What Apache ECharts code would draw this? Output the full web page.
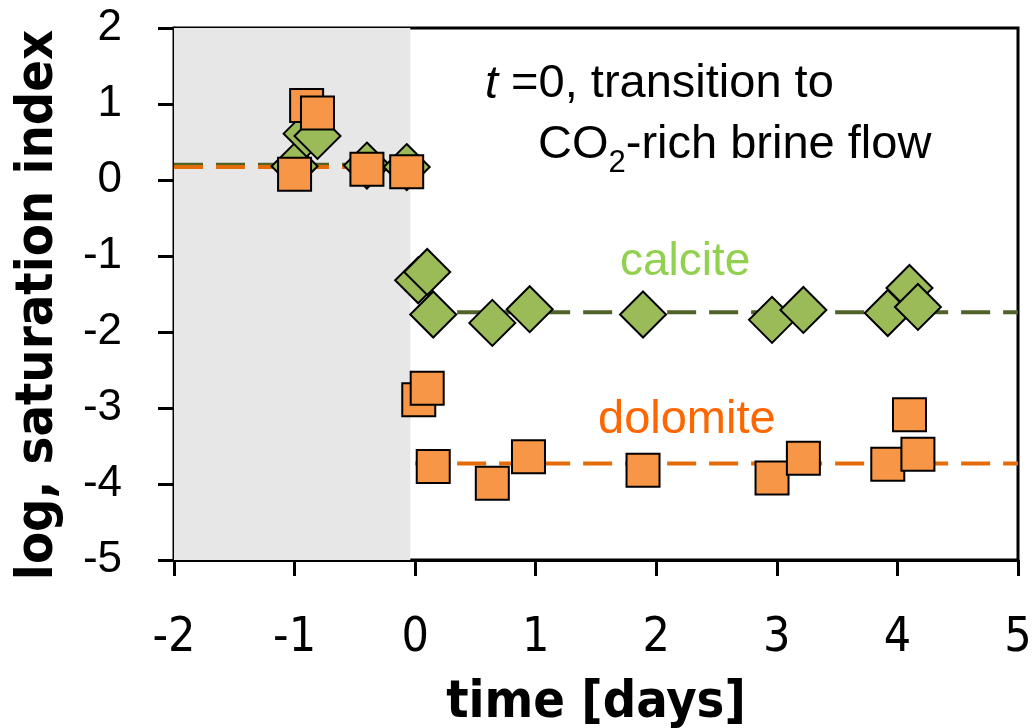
<!DOCTYPE html>
<html>
<head>
<meta charset="utf-8">
<script src="https://cdn.jsdelivr.net/npm/echarts@6/dist/echarts.min.js"></script>
<style>
html,body{margin:0;padding:0;background:#fff;}
#chart{width:1034px;height:728px;}
</style>
</head>
<body>
<div id="chart"></div>
<script>
// ---- data ----
const xRange = [-2, 5];
const yRange = [-5, 2];
const shadeRange = [-2, -0.04];

const calciteT  = [-1.00, -0.90, -0.81, -0.40, -0.07, 0.025, 0.10, 0.15, 0.64, 0.95, 1.89, 2.96, 3.22, 4.10, 3.92, 4.17];
const calciteSI = [0.18, 0.61, 0.58, 0.19, 0.17, -1.32, -1.21, -1.77, -1.88, -1.70, -1.77, -1.84, -1.71, -1.42, -1.75, -1.67];

const dolomiteT  = [-0.90, -0.81, -1.00, -0.40, -0.07, 0.03, 0.10, 0.15, 0.64, 0.94, 1.89, 2.96, 3.22, 4.10, 3.92, 4.17];
const dolomiteSI = [0.98, 0.88, 0.075, 0.14, 0.11, -2.89, -2.74, -3.77, -3.99, -3.64, -3.82, -3.92, -3.66, -3.09, -3.74, -3.61];

// mean levels (dashed lines): before and after t = 0
const fitBreaks   = [-2, 0, 5];
const calciteFit  = [0.20, -1.74];
const dolomiteFit = [0.17, -3.73];

const labelCalcite = 'calcite';
const labelDolomite = 'dolomite';
const xTitle = 'time [days]';
const yTitle = 'log, saturation index';

// ---- build ----
const pairs = (xs, ys) => xs.map((x, i) => [x, ys[i]]);
const fitSeg = (levels, k) => [[fitBreaks[k], levels[k]], [fitBreaks[k + 1], levels[k]]];

const condensed = '"DejaVu Sans Condensed", "Liberation Sans Narrow", sans-serif';
const arial = '"Liberation Sans", Arial, sans-serif';
const dashStyle = (c) => ({ color: c, width: 4, type: [29, 13] });

const chart = echarts.init(document.getElementById('chart'), null, { renderer: 'canvas' });

const option = {
  animation: false,
  backgroundColor: '#fff',
  grid: {
    left: 174, right: 16, top: 28, bottom: 168,
    outerBoundsMode: 'none', containLabel: false,
    show: true, borderColor: '#000', borderWidth: 3, backgroundColor: 'transparent'
  },
  xAxis: {
    type: 'value', min: xRange[0], max: xRange[1], interval: 1,
    splitLine: { show: false },
    axisLine: { show: true, onZero: false, lineStyle: { color: '#000', width: 3 } },
    axisTick: { show: true, inside: false, length: 16, lineStyle: { color: '#000', width: 3 } },
    axisLabel: { color: '#000', fontSize: 48, fontFamily: condensed, margin: 55 },
    name: xTitle, nameLocation: 'middle', nameGap: 117,
    nameTextStyle: { color: '#000', fontSize: 52, fontWeight: 'bold', fontFamily: condensed }
  },
  yAxis: {
    type: 'value', min: yRange[0], max: yRange[1], interval: 1,
    splitLine: { show: false },
    axisLine: { show: true, onZero: false, lineStyle: { color: '#000', width: 3 } },
    axisTick: { show: true, inside: false, length: 16, lineStyle: { color: '#000', width: 3 } },
    axisLabel: { color: '#000', fontSize: 44, fontFamily: arial, margin: 52 },
    name: yTitle, nameLocation: 'middle', nameGap: 110,
    nameTextStyle: { color: '#000', fontSize: 52, fontWeight: 'bold', fontFamily: condensed, padding: [0, 22, 0, 0] }
  },
  series: [
    {
      name: 'shade', type: 'line', data: [], z: 0, silent: true,
      markArea: {
        silent: true,
        itemStyle: { color: '#E7E7E7' },
        data: [[{ xAxis: shadeRange[0], yAxis: yRange[0] }, { xAxis: shadeRange[1], yAxis: yRange[1] }]]
      }
    },
    { name: 'calcite pre', type: 'line', data: fitSeg(calciteFit, 0), showSymbol: false, symbol: 'none', lineStyle: dashStyle('#4F6228'), z: 1, silent: true },
    { name: 'dolomite pre', type: 'line', data: fitSeg(dolomiteFit, 0), showSymbol: false, symbol: 'none', lineStyle: dashStyle('#E36C09'), z: 1, silent: true },
    { name: 'calcite post', type: 'line', data: fitSeg(calciteFit, 1), showSymbol: false, symbol: 'none', lineStyle: dashStyle('#4F6228'), z: 1, silent: true },
    { name: 'dolomite post', type: 'line', data: fitSeg(dolomiteFit, 1), showSymbol: false, symbol: 'none', lineStyle: dashStyle('#E36C09'), z: 1, silent: true },
    {
      name: labelCalcite, type: 'scatter', data: pairs(calciteT, calciteSI),
      symbol: 'diamond', symbolSize: 46, z: 3,
      itemStyle: { color: '#9BBB59', borderColor: '#000', borderWidth: 2, opacity: 1 }
    },
    {
      name: labelDolomite, type: 'scatter', data: pairs(dolomiteT, dolomiteSI),
      symbol: 'rect', symbolSize: 33, z: 4,
      itemStyle: { color: '#F79646', borderColor: '#000', borderWidth: 2, opacity: 1 }
    }
  ],
  graphic: [
    {
      type: 'text', x: 485, y: 108, z: 10,
      style: {
        text: '{i|t}{n| =0, transition to}',
        align: 'left', verticalAlign: 'bottom',
        rich: {
          i: { fontSize: 47, fontStyle: 'italic', fontFamily: arial, fill: '#000', lineHeight: 47, verticalAlign: 'bottom' },
          n: { fontSize: 47, fontFamily: arial, fill: '#000', lineHeight: 47, verticalAlign: 'bottom' }
        }
      }
    },
    {
      type: 'text', x: 538, y: 179, z: 10,
      style: {
        text: '{n|CO}{s|2}{n|-rich brine flow}',
        align: 'left', verticalAlign: 'bottom',
        rich: {
          n: { fontSize: 47, fontFamily: arial, fill: '#000', lineHeight: 47, padding: [0, 0, 10, 0], verticalAlign: 'bottom' },
          s: { fontSize: 31, fontFamily: arial, fill: '#000', lineHeight: 31, verticalAlign: 'bottom' }
        }
      }
    },
    {
      type: 'text', x: 620, y: 285, z: 10,
      style: { text: labelCalcite, fontSize: 46, fontFamily: arial, fill: '#92D050', align: 'left', verticalAlign: 'bottom' }
    },
    {
      type: 'text', x: 598, y: 444, z: 10,
      style: { text: labelDolomite, fontSize: 47, fontFamily: arial, fill: '#FF6600', align: 'left', verticalAlign: 'bottom' }
    }
  ]
};

chart.setOption(option);
</script>
</body>
</html>
